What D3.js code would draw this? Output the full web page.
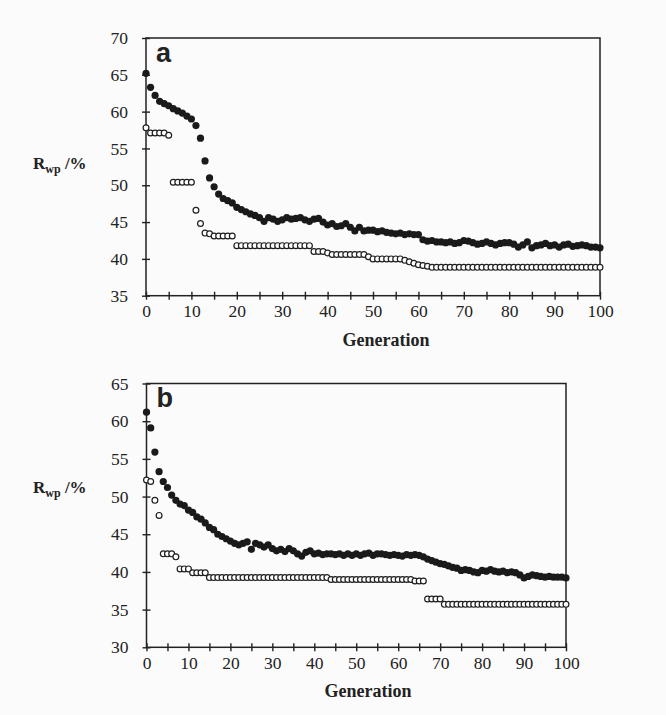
<!DOCTYPE html>
<html>
<head>
<meta charset="utf-8">
<script src="https://cdn.jsdelivr.net/npm/d3@7/dist/d3.min.js"></script>
<style>
  body { margin: 0; background: #fbfbfb; }
  svg { display: block; }
</style>
</head>
<body>
<div id="chart"></div>
<script>
    // data, index = generation (0..100)
    var aFilled = [65.2, 63.3, 62.2, 61.4, 61.1, 60.8, 60.4, 60.1, 59.8, 59.4,
        59.0, 58.1, 56.4, 53.3, 51.0, 49.8, 48.8, 48.2, 47.9, 47.6,
        47.0, 46.7, 46.4, 46.1, 45.9, 45.6, 45.1, 45.6, 45.4, 45.1,
        45.3, 45.6, 45.4, 45.5, 45.6, 45.3, 45.1, 45.4, 45.5, 45.0,
        44.6, 44.8, 44.4, 44.5, 44.8, 44.3, 43.8, 44.3, 43.8, 43.9,
        43.9, 43.7, 43.8, 43.6, 43.5, 43.4, 43.5, 43.3, 43.4, 43.3,
        43.3, 42.6, 42.4, 42.5, 42.3, 42.3, 42.2, 42.3, 42.1, 42.2,
        42.5, 42.4, 42.2, 42.0, 42.1, 42.3, 42.1, 41.9, 42.1, 42.2,
        42.2, 42.0, 41.6, 41.9, 42.3, 41.5, 41.8, 41.9, 42.1, 41.8,
        41.9, 41.6, 41.9, 42.0, 41.7, 41.8, 41.9, 41.8, 41.6, 41.6,
        41.5];
    var aOpen = [57.8, 57.1, 57.1, 57.1, 57.1, 56.8, 50.4, 50.4, 50.4, 50.4,
        50.4, 46.6, 44.8, 43.5, 43.4, 43.1, 43.1, 43.1, 43.1, 43.1,
        41.8, 41.8, 41.8, 41.8, 41.8, 41.8, 41.8, 41.8, 41.8, 41.8,
        41.8, 41.8, 41.8, 41.8, 41.8, 41.8, 41.8, 41.0, 41.0, 41.0,
        40.8, 40.6, 40.6, 40.6, 40.6, 40.6, 40.6, 40.6, 40.6, 40.3,
        40.0, 40.0, 40.0, 40.0, 40.0, 40.0, 40.0, 39.8, 39.6, 39.4,
        39.2, 39.1, 39.0, 38.85, 38.85, 38.85, 38.85, 38.85, 38.85, 38.85,
        38.85, 38.85, 38.85, 38.85, 38.85, 38.85, 38.85, 38.85, 38.85, 38.85,
        38.85, 38.85, 38.85, 38.85, 38.85, 38.85, 38.85, 38.85, 38.85, 38.85,
        38.85, 38.85, 38.85, 38.85, 38.85, 38.85, 38.85, 38.85, 38.85, 38.85,
        38.85];
    var bFilled = [61.2, 59.1, 55.9, 53.3, 52.0, 51.2, 50.2, 49.5, 49.0, 48.8,
        48.2, 47.9, 47.3, 47.0, 46.5, 45.9, 45.6, 45.0, 44.7, 44.4,
        44.1, 43.8, 43.6, 43.8, 44.0, 43.0, 43.8, 43.6, 43.3, 43.6,
        43.1, 42.8, 43.0, 42.7, 43.1, 42.8, 42.4, 42.1, 42.6, 42.8,
        42.4, 42.5, 42.3, 42.4, 42.4, 42.3, 42.4, 42.2, 42.4, 42.2,
        42.4, 42.2, 42.4, 42.5, 42.2, 42.4, 42.4, 42.3, 42.2, 42.3,
        42.2, 42.1, 42.3, 42.2, 42.3, 42.2, 42.0, 41.7, 41.5, 41.3,
        41.1, 41.0, 40.8, 40.6, 40.5, 40.2, 40.3, 40.2, 40.0, 39.9,
        40.2, 40.1, 40.3, 40.1, 40.0, 40.1, 39.9, 40.0, 39.9, 39.6,
        39.2, 39.4, 39.6, 39.5, 39.4, 39.3, 39.4, 39.3, 39.3, 39.3,
        39.2];
    var bOpen = [52.2, 52.0, 49.5, 47.5, 42.4, 42.4, 42.4, 42.0, 40.4, 40.4,
        40.4, 39.9, 39.9, 39.9, 39.9, 39.25, 39.25, 39.25, 39.25, 39.25,
        39.25, 39.25, 39.25, 39.25, 39.25, 39.25, 39.25, 39.25, 39.25, 39.25,
        39.25, 39.25, 39.25, 39.25, 39.25, 39.25, 39.25, 39.25, 39.25, 39.25,
        39.25, 39.25, 39.25, 39.25, 39.0, 39.0, 39.0, 39.0, 39.0, 39.0,
        39.0, 39.0, 39.0, 39.0, 39.0, 39.0, 39.0, 39.0, 39.0, 39.0,
        39.0, 39.0, 39.0, 39.0, 38.8, 38.8, 38.8, 36.4, 36.4, 36.4,
        36.4, 35.7, 35.7, 35.7, 35.7, 35.7, 35.7, 35.7, 35.7, 35.7,
        35.7, 35.7, 35.7, 35.7, 35.7, 35.7, 35.7, 35.7, 35.7, 35.7,
        35.7, 35.7, 35.7, 35.7, 35.7, 35.7, 35.7, 35.7, 35.7, 35.7,
        35.7];

    // tick values
    var xTicks = [0, 5, 10, 15, 20, 25, 30, 35, 40, 45, 50, 55, 60, 65, 70, 75, 80, 85, 90, 95, 100];
    var aYTicks = [35, 40, 45, 50, 55, 60, 65, 70];
    var bYTicks = [30, 35, 40, 45, 50, 55, 60, 65];

    var width = 666,
        height = 715;
    var serif = '"Liberation Serif", "Times New Roman", serif';

    var svg = d3.select("#chart").append("svg")
        .attr("width", width)
        .attr("height", height);

    function drawPanel(p) {
        var x = d3.scaleLinear().domain([0, 100]).range([p.left, p.right]);
        var y = d3.scaleLinear().domain(p.yDomain).range([p.bottom, p.top]);

        var g = svg.append("g");

        // frame
        g.append("rect")
            .attr("x", p.left)
            .attr("y", p.top)
            .attr("width", p.right - p.left)
            .attr("height", p.bottom - p.top)
            .attr("fill", "none")
            .attr("stroke", "#222")
            .attr("stroke-width", 1.5);

        // x axis, ticks cross the line
        var xAxis = g.append("g")
            .attr("transform", "translate(0," + p.bottom + ")")
            .call(d3.axisBottom(x)
                .tickValues(xTicks)
                .tickSize(4)
                .tickPadding(5)
                .tickFormat(function (d) { return d % 10 === 0 ? d : ""; }));
        xAxis.select(".domain").remove();
        xAxis.selectAll("line").attr("y1", -4).attr("stroke", "#222").attr("stroke-width", 1.4);
        xAxis.selectAll("text")
            .attr("font-family", serif)
            .attr("font-size", "17.5px")
            .attr("fill", "#222");

        // y axis
        var yAxis = g.append("g")
            .attr("transform", "translate(" + p.left + ",0)")
            .call(d3.axisLeft(y)
                .tickValues(p.yTicks)
                .tickSize(4)
                .tickPadding(14));
        yAxis.select(".domain").remove();
        yAxis.selectAll("line").attr("x1", 4).attr("stroke", "#222").attr("stroke-width", 1.4);
        yAxis.selectAll("text")
            .attr("font-family", serif)
            .attr("font-size", "17.5px")
            .attr("fill", "#222");

        // open circles
        g.append("g").selectAll("circle")
            .data(p.open)
            .enter().append("circle")
            .attr("cx", function (d, i) { return x(i); })
            .attr("cy", function (d) { return y(d); })
            .attr("r", 2.9)
            .attr("fill", "#fff")
            .attr("stroke", "#1e1e1e")
            .attr("stroke-width", 1.2);

        // filled circles
        g.append("g").selectAll("circle")
            .data(p.filled)
            .enter().append("circle")
            .attr("cx", function (d, i) { return x(i); })
            .attr("cy", function (d) { return y(d); })
            .attr("r", 3.6)
            .attr("fill", "#1a1a1a");

        // panel letter
        g.append("text")
            .attr("x", p.left + 10)
            .attr("y", p.letterY)
            .attr("font-family", '"Liberation Sans", Arial, sans-serif')
            .attr("font-weight", "bold")
            .attr("font-size", "27px")
            .attr("fill", "#222")
            .text(p.letter);

        // x title
        g.append("text")
            .attr("x", p.titleX)
            .attr("y", p.bottom + 50)
            .attr("text-anchor", "middle")
            .attr("font-family", serif)
            .attr("font-weight", "bold")
            .attr("font-size", "18px")
            .attr("fill", "#222")
            .text("Generation");

        // y title  R_wp /%
        var yt = g.append("text")
            .attr("x", 33)
            .attr("y", p.yTitleY)
            .attr("font-family", serif)
            .attr("font-weight", "bold")
            .attr("font-size", "17px")
            .attr("fill", "#222");
        yt.append("tspan").text("R");
        yt.append("tspan").attr("font-size", "12px").attr("dy", 4).text("wp");
        yt.append("tspan").attr("dy", -4).text(" /%");
    }

    drawPanel({
        left: 146, right: 600, top: 38, bottom: 295.7,
        yDomain: [35, 70], yTicks: aYTicks,
        filled: aFilled, open: aOpen,
        letter: "a", letterY: 61.5, titleX: 386, yTitleY: 169
    });

    drawPanel({
        left: 146.5, right: 566, top: 383.5, bottom: 647.3,
        yDomain: [30, 65], yTicks: bYTicks,
        filled: bFilled, open: bOpen,
        letter: "b", letterY: 406.5, titleX: 368, yTitleY: 493
    });
</script>
</body>
</html>
